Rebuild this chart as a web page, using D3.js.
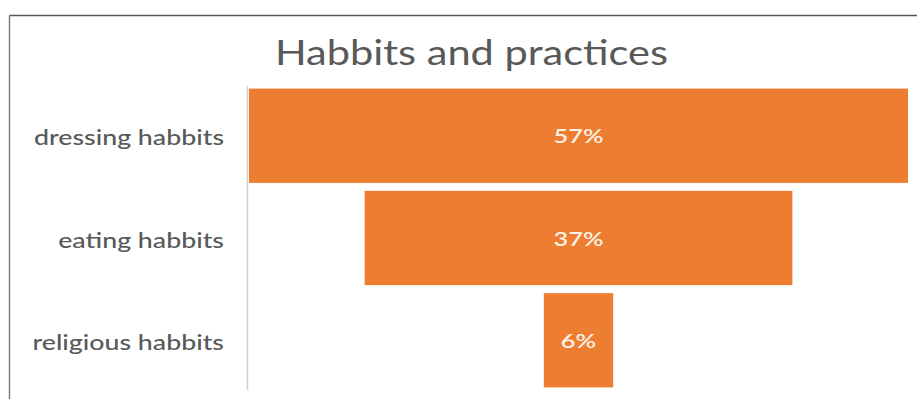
<!DOCTYPE html>
<html>
<head>
<meta charset="utf-8">
<script src="https://cdn.jsdelivr.net/npm/d3@7"></script>
<style>
  html, body { margin: 0; padding: 0; background: #fff; }
  svg { display: block; }
</style>
</head>
<body>
<svg id="chart" width="917" height="399"></svg>
<script>
// Funnel chart data
const categories = ["dressing habbits", "eating habbits", "religious habbits"];
const values = [57, 37, 6];
const valueLabels = ["57%", "37%", "6%"];
const title = "Habbits and practices";

const svg = d3.select("#chart");
const W = 917, H = 399;
const FONT = "Lato, 'Open Sans', sans-serif";

// Widen a group of text elements uniformly so that a reference string reaches a given width
function widen(sel, refWidth, refIndex = 0) {
  const nodes = sel.nodes();
  const k = refWidth / nodes[refIndex].getComputedTextLength();
  nodes.forEach(n => {
    const len = n.getComputedTextLength();
    n.setAttribute("textLength", len * k);
    n.setAttribute("lengthAdjust", "spacingAndGlyphs");
  });
}

// Frame lines (top and left edges of the chart area)
svg.append("line").attr("x1", 9.5).attr("x2", W).attr("y1", 15.5).attr("y2", 15.5)
  .attr("stroke", "#555").attr("stroke-width", 1.4);
svg.append("line").attr("x1", 9.5).attr("x2", 9.5).attr("y1", 15.5).attr("y2", H)
  .attr("stroke", "#777").attr("stroke-width", 1.4);

// Plot area
const plotLeft = 249, plotRight = 908;
const center = (plotLeft + plotRight) / 2;

const y = d3.scaleBand()
  .domain(categories)
  .range([85, 391])
  .paddingInner(0.078)
  .paddingOuter(0.035);

const w = d3.scaleLinear()
  .domain([0, d3.max(values)])
  .range([0, plotRight - plotLeft]);

// Title
const titleSel = svg.append("text")
  .attr("x", 471.5).attr("y", 65)
  .attr("text-anchor", "middle")
  .attr("font-family", FONT)
  .attr("font-size", 34)
  .attr("fill", "#595959")
  .text(title);
widen(titleSel, 393);

// Vertical category axis line
svg.append("line")
  .attr("x1", 247.5).attr("x2", 247.5)
  .attr("y1", 86).attr("y2", 390)
  .attr("stroke", "#d0d0d0").attr("stroke-width", 1.5);

// Bars
const data = categories.map((c, i) => ({ c, v: values[i], label: valueLabels[i] }));

svg.selectAll("rect.bar").data(data).join("rect")
  .attr("class", "bar")
  .attr("x", d => center - w(d.v) / 2)
  .attr("y", d => y(d.c))
  .attr("width", d => w(d.v))
  .attr("height", y.bandwidth())
  .attr("fill", "#ED7D31");

// Value labels
const valSel = svg.selectAll("text.val").data(data).join("text")
  .attr("class", "val")
  .attr("x", center)
  .attr("y", d => y(d.c) + y.bandwidth() / 2 + 7.5)
  .attr("text-anchor", "middle")
  .attr("font-family", FONT)
  .attr("font-size", 19)
  .attr("font-weight", 600)
  .attr("fill", "#fdf1e6")
  .text(d => d.label);
widen(valSel, 50);

// Category labels
const catSel = svg.selectAll("text.cat").data(data).join("text")
  .attr("class", "cat")
  .attr("x", 224)
  .attr("y", d => y(d.c) + y.bandwidth() / 2 + 9.5)
  .attr("text-anchor", "end")
  .attr("font-family", FONT)
  .attr("font-size", 22)
  .attr("font-weight", 500)
  .attr("fill", "#595959")
  .text(d => d.c);
widen(catSel, 190);
</script>
</body>
</html>
